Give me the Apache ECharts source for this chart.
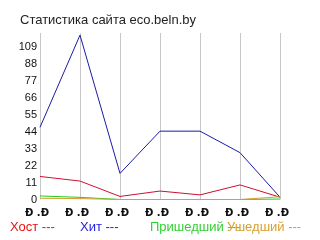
<!DOCTYPE html>
<html><head><meta charset="utf-8">
<script src="https://cdn.jsdelivr.net/npm/echarts@6/dist/echarts.min.js"></script>
<style>html,body{margin:0;padding:0;background:#fff}#c{width:320px;height:240px}</style>
</head><body><div id="c"></div>
<script>
var categories = ['Ð .Ð','Ð .Ð','Ð .Ð','Ð .Ð','Ð .Ð','Ð .Ð','Ð .Ð'];
var hostValues = [15, 12, 2, 5.5, 3, 9.5, 1.5];
var hitValues = [47, 107, 17, 44.5, 44.5, 30.5, 1.5];
var arrivedValues = [2.3, 1.4, 0, 0, 0, 0, 0.3];
var leftValues = [0.8, 0.6, 0, 0, 0, 0, 1.8];
var yTickLabels = ['0','11','22','33','44','55','66','77','88','109'];
var seriesNames = ['Хост','Хит','Пришедший','Ушедший'];
var colors = ['#cc1030','#1a1aa8','#22cc22','#d8a030'];
var legendColors = ['#ee1111','#2222e0','#30d030','#d8a030'];
var legendLefts = [5, 75, 145, 222];

var chart = echarts.init(document.getElementById('c'), null, {renderer:'canvas'});
var dataSets = [hostValues, hitValues, arrivedValues, leftValues];
chart.setOption({
  animation: false,
  title: {text: 'Статистика сайта eco.beln.by', left: 20, top: 14, padding: 0,
    textStyle: {fontFamily: 'Liberation Sans, Arial', fontSize: 13, fontWeight: 'normal', color: '#222'}},
  legend: seriesNames.map(function(n, i){
    return {data: [n], left: legendLefts[i], top: 220, padding: 0, icon: 'none',
      itemWidth: 0, itemGap: 0, selectedMode: false,
      formatter: '{name} ---',
      textStyle: {fontFamily: 'Liberation Sans, Arial', fontSize: 13, color: legendColors[i], padding: 0}};
  }),
  grid: {left: 40, right: 40, top: 33, bottom: 40.5},
  xAxis: {type: 'category', data: categories, boundaryGap: false,
    axisLine: {show: false}, axisTick: {show: false},
    splitLine: {show: true, lineStyle: {color: '#c8c8c8', width: 1}},
    axisLabel: {margin: 9, color: '#111', fontFamily: 'DejaVu Sans', fontWeight: 'bold', fontSize: 10, interval: 0,
      padding: [0, 6, 0, 0]}},
  yAxis: {type: 'value', min: 0, max: 108.4, interval: 11,
    axisLine: {show: false}, axisTick: {show: false}, splitLine: {show: false},
    axisLabel: {margin: 3, color: '#111', fontFamily: 'Liberation Sans, Arial', fontSize: 11,
      showMaxLabel: false, verticalAlign: 'middle', padding: [0,0,9,0],
      formatter: function(v){ var i = Math.round(v/11); return yTickLabels[i] !== undefined ? yTickLabels[i] : ''; }}},
  series: seriesNames.map(function(n, i){
    return {name: n, type: 'line', data: dataSets[i], symbol: 'none', color: colors[i],
      lineStyle: {width: 1, color: colors[i]}};
  })
});
</script></body></html>
